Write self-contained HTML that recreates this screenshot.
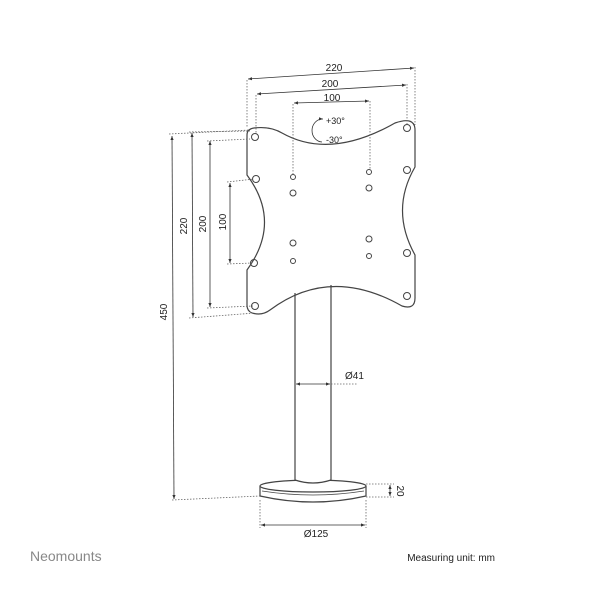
<!DOCTYPE html>
<html><head><style>body{margin:0;background:#fff}svg{display:block}</style></head><body>
<svg width="600" height="600" viewBox="0 0 600 600" xmlns="http://www.w3.org/2000/svg" font-family="Liberation Sans, sans-serif">
<defs><marker id="a" viewBox="0 0 10 10" refX="10" refY="5" markerWidth="5" markerHeight="5" orient="auto-start-reverse"><path d="M0,1 L10,5 L0,9z" fill="#333"/></marker></defs>
<g fill="none" stroke="#444" stroke-width="1">
<ellipse cx="313" cy="486" rx="53" ry="6" stroke-width="1.2"/>
<path d="M260,486 L260,496 Q313,508 366,496 L366,486" stroke-width="1.2"/>
<path d="M262,491 Q313,499 364,491" stroke-width="0.8"/>
<path d="M295,293 L295,480 Q313,486 331,480 L331,285" stroke-width="1.2" fill="#fff"/>
<path d="M254,128 Q270,126 282,133 Q330,160 395,123 Q415,116 415,130 L415,167 Q390,210 415,255 L415,298 Q415,310 402,306 Q330,265 270,310 Q262,316 252,313 Q247,311 247,305 L247,270 Q282,222 247,175 L247,135 Q247,129 254,128Z" stroke-width="1.2"/>
<g stroke-width="1">
<circle cx="255" cy="137" r="3.5"/><circle cx="256" cy="179" r="3.5"/><circle cx="254" cy="263" r="3.5"/><circle cx="255" cy="306" r="3.5"/>
<circle cx="407" cy="128" r="3.5"/><circle cx="407" cy="170" r="3.5"/><circle cx="407" cy="253" r="3.5"/><circle cx="407" cy="296" r="3.5"/>
<circle cx="293" cy="177" r="2.5"/><circle cx="293" cy="193" r="3"/><circle cx="293" cy="243" r="3"/><circle cx="293" cy="261" r="2.5"/>
<circle cx="369" cy="172" r="2.5"/><circle cx="369" cy="188" r="3"/><circle cx="369" cy="239" r="3"/><circle cx="369" cy="256" r="2.5"/>
</g>
</g>
<g stroke="#666" stroke-width="0.8" fill="none">
<g stroke-dasharray="1.5,1.5">
<path d="M247,80 L247,128 M415,67 L415,125 M256,95 L256,133 M407,84 L407,124 M293,104 L293,174 M370,101 L370,169"/>
<path d="M169,134 L250,130 M189,132 L250,131 M207,141 L250,139 M227,182 L254,179 M227,264 L252,263 M207,308 L253,306 M189,318 L255,313 M172,500 L260,496 M331,384 L358,384 M366,497 L394,497 M366,484 L394,484 M260,500 L260,528 M366,500 L366,528"/>
</g>
<g stroke="#333" marker-start="url(#a)" marker-end="url(#a)">
<line x1="248" y1="79" x2="414" y2="68"/>
<line x1="257" y1="94" x2="406" y2="85"/>
<line x1="294" y1="103" x2="369" y2="101"/>
<line x1="172" y1="136" x2="174" y2="499"/>
<line x1="192" y1="133" x2="193" y2="317"/>
<line x1="210" y1="141" x2="210" y2="307"/>
<line x1="230" y1="183" x2="230" y2="263"/>
<line x1="296" y1="384" x2="330" y2="384"/>
<line x1="390" y1="485" x2="390" y2="496"/>
<line x1="261" y1="525" x2="365" y2="525"/>
</g>
<path d="M323,119 A10,11 0 0 0 322,142" stroke="#333" marker-start="url(#a)"/>
</g>
<g font-size="10" fill="#222">
<text x="334" y="71" text-anchor="middle">220</text>
<text x="330" y="87" text-anchor="middle">200</text>
<text x="332" y="101" text-anchor="middle">100</text>
<text x="326" y="124" font-size="9">+30°</text>
<text x="326" y="143" font-size="9">-30°</text>
<text x="345" y="379">Ø41</text>
<text x="316" y="537" text-anchor="middle">Ø125</text>
<text transform="translate(167,312) rotate(-90)" text-anchor="middle">450</text>
<text transform="translate(187,226) rotate(-90)" text-anchor="middle">220</text>
<text transform="translate(206,224) rotate(-90)" text-anchor="middle">200</text>
<text transform="translate(226,222) rotate(-90)" text-anchor="middle">100</text>
<text transform="translate(397,491) rotate(90)" text-anchor="middle">20</text>
</g>
<text x="30" y="561" font-size="14" fill="#888">Neomounts</text>
<text x="495" y="561" font-size="10" fill="#222" text-anchor="end">Measuring unit: mm</text>
</svg>
</body></html>
